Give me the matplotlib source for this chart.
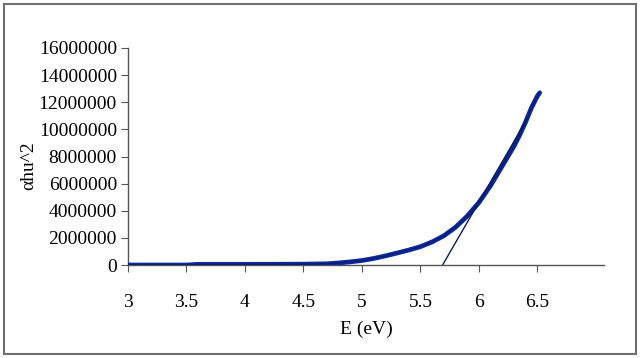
import matplotlib
matplotlib.use("Agg")
import matplotlib.pyplot as plt
from matplotlib.patches import Rectangle

energy = [3.0, 3.5, 3.6, 4.0, 4.5, 4.7, 4.8, 4.9, 5.0, 5.1, 5.2, 5.3, 5.4, 5.5, 5.6,
          5.7, 5.8, 5.9, 6.0, 6.1, 6.2, 6.3, 6.35, 6.4, 6.45, 6.5, 6.52]
alpha_hv2 = [0.0, 0.0, 0.05e6, 0.05e6, 0.06e6, 0.09e6, 0.15e6, 0.23e6, 0.33e6, 0.48e6,
             0.67e6, 0.88e6, 1.1e6, 1.35e6, 1.7e6, 2.15e6, 2.78e6, 3.6e6, 4.6e6,
             5.85e6, 7.3e6, 8.75e6, 9.6e6, 10.55e6, 11.6e6, 12.45e6, 12.7e6]
tangent_x = [5.69, 6.42]
tangent_y = [0.0, 10.9e6]
xticks = [3, 3.5, 4, 4.5, 5, 5.5, 6, 6.5]
xtick_labels = ["3", "3.5", "4", "4.5", "5", "5.5", "6", "6.5"]
yticks = [0, 2e6, 4e6, 6e6, 8e6, 10e6, 12e6, 14e6, 16e6]
ytick_labels = ["0", "2000000", "4000000", "6000000", "8000000", "10000000",
                "12000000", "14000000", "16000000"]

plt.rcParams['font.family'] = ['Liberation Serif', 'DejaVu Serif']

fig = plt.figure(figsize=(6.4, 3.58), dpi=100)
fig.patches.append(Rectangle((4/640, 4/358), 632/640, 350/358, transform=fig.transFigure,
                             fill=False, edgecolor='#6e6e6e', linewidth=1.5))
ax = fig.add_axes([128/640, (358-265)/358, (604-128)/640, (265-48)/358])

ax.plot(energy, alpha_hv2, color='#0c2a9a', linewidth=3.4, solid_capstyle='round',
        solid_joinstyle='round', zorder=3)
ax.plot(energy, alpha_hv2, color='#0a0a3a', linewidth=0.8, zorder=4, alpha=0.5)
ax.plot(tangent_x, tangent_y, color='#0a1a5a', linewidth=1.0, zorder=5)

ax.set_xlim(3, 7.07)
ax.set_ylim(0, 16e6)
ax.set_xticks(xticks)
ax.set_xticklabels(xtick_labels)
ax.set_yticks(yticks)
ax.set_yticklabels(ytick_labels)

for s in ['top', 'right']:
    ax.spines[s].set_visible(False)
for s in ['left', 'bottom']:
    ax.spines[s].set_color('#555555')
    ax.spines[s].set_linewidth(1.0)

ax.tick_params(axis='x', direction='out', length=5, color='#555555', pad=16, labelsize=14)
ax.tick_params(axis='y', direction='out', length=5, color='#555555', pad=3, labelsize=14)

ax.set_xlabel("E (eV)", fontsize=14)
ax.xaxis.set_label_coords(0.5, -0.255)
ax.set_ylabel("αhu^2", fontsize=14)
ax.yaxis.set_label_coords(-0.19, 0.46)

fig.savefig("out.png", dpi=100)
